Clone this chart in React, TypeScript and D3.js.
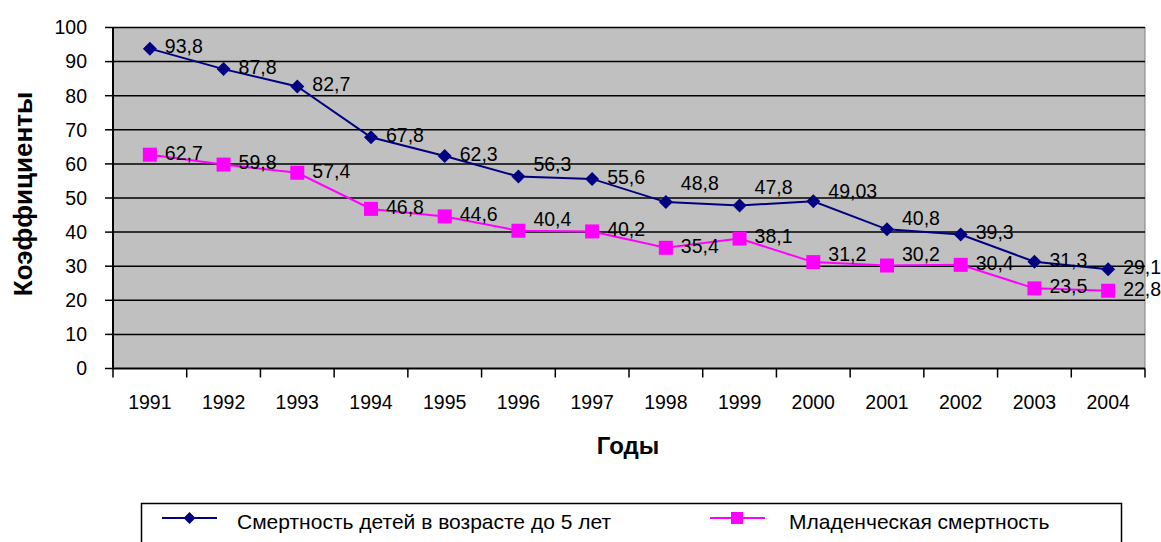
import React from "react";
import * as d3 from "d3";

const years = ["1991","1992","1993","1994","1995","1996","1997","1998","1999","2000","2001","2002","2003","2004"];
const under5 = [93.8, 87.8, 82.7, 67.8, 62.3, 56.3, 55.6, 48.8, 47.8, 49.03, 40.8, 39.3, 31.3, 29.1];
const infant = [62.7, 59.8, 57.4, 46.8, 44.6, 40.4, 40.2, 35.4, 38.1, 31.2, 30.2, 30.4, 23.5, 22.8];
const under5Labels = ["93,8","87,8","82,7","67,8","62,3","56,3","55,6","48,8","47,8","49,03","40,8","39,3","31,3","29,1"];
const infantLabels = ["62,7","59,8","57,4","46,8","44,6","40,4","40,2","35,4","38,1","31,2","30,2","30,4","23,5","22,8"];
// label vertical nudges (layout)
const under5Dy = [0,0,0,0,0,-10,0,-17,-16,-8,-9,0,0,0];
const infantDy = [0,0,0,0,0,-10,0,0,0,-6,-9,0,0,0];
const yTicks = [0,10,20,30,40,50,60,70,80,90,100];
const seriesNames = ["Смертность детей в возрасте до 5 лет", "Младенческая смертность"];

const W = 1161, H = 542;
const L = 113, R = 1145, T = 27.5, B = 368.5;
const font = "Arial, 'Liberation Sans', sans-serif";

export default function App() {
  const x = d3.scaleBand().domain(years).range([L, R]);
  const y = d3.scaleLinear().domain([0, 100]).range([B, T]);
  const cx = (i: number) => (x(years[i]) as number) + x.bandwidth() / 2;
  const line = d3.line<number>().x((_, i) => cx(i)).y((d) => y(d));
  const boundaries = d3.range(years.length + 1).map((i) => L + i * x.bandwidth());

  const diamond = (px: number, py: number, s: number, key: string) => (
    <path key={key} d={`M${px},${py - s}L${px + s},${py}L${px},${py + s}L${px - s},${py}Z`} fill="#000080" />
  );
  const square = (px: number, py: number, s: number, key: string) => (
    <rect key={key} x={px - s} y={py - s} width={2 * s} height={2 * s} fill="#FF00FF" />
  );

  return (
    <svg width={W} height={H} style={{ position: "absolute", left: 0, top: 0, background: "#fff" }} fontFamily={font}>
      <rect x={L} y={T} width={R - L} height={B - T} fill="#C0C0C0" stroke="#808080" strokeWidth={1} />
      {yTicks.map((t) => (
        <g key={t}>
          {t > 0 && <line x1={L} x2={R} y1={y(t)} y2={y(t)} stroke="#000" strokeWidth={1.5} />}
          <line x1={L - 8} x2={L} y1={y(t)} y2={y(t)} stroke="#000" strokeWidth={1.5} />
          <text x={87} y={y(t)} dy="0.35em" textAnchor="end" fontSize={19.5}>{t}</text>
        </g>
      ))}
      <line x1={L} x2={L} y1={T} y2={B} stroke="#000" strokeWidth={2} />
      <line x1={L} x2={R} y1={B} y2={B} stroke="#000" strokeWidth={2} />
      {boundaries.map((bx, i) => (
        <line key={i} x1={bx} x2={bx} y1={B} y2={B + 9} stroke="#000" strokeWidth={1.5} />
      ))}
      {years.map((yr, i) => (
        <text key={yr} x={cx(i)} y={402.5} dy="0.35em" textAnchor="middle" fontSize={19.5}>{yr}</text>
      ))}

      <path d={line(infant) || ""} fill="none" stroke="#FF00FF" strokeWidth={2} />
      <path d={line(under5) || ""} fill="none" stroke="#000080" strokeWidth={2} />
      {infant.map((v, i) => square(cx(i), y(v), 7, "s" + i))}
      {under5.map((v, i) => diamond(cx(i), y(v), 7, "d" + i))}
      {under5.map((v, i) => (
        <text key={"lu" + i} x={cx(i) + 15} y={y(v) - 2 + under5Dy[i]} dy="0.35em" fontSize={19.5}>{under5Labels[i]}</text>
      ))}
      {infant.map((v, i) => (
        <text key={"li" + i} x={cx(i) + 15} y={y(v) - 2 + infantDy[i]} dy="0.35em" fontSize={19.5}>{infantLabels[i]}</text>
      ))}

      <text transform={`translate(23,194) rotate(-90)`} textAnchor="middle" dy="0.35em" fontSize={26} fontWeight="bold">Коэффициенты</text>
      <text x={628} y={446} dy="0.35em" textAnchor="middle" fontSize={24} fontWeight="bold">Годы</text>

      <rect x={141.5} y={503.5} width={980} height={60} fill="#fff" stroke="#000" strokeWidth={1.5} />
      <line x1={162} x2={217} y1={518} y2={518} stroke="#000080" strokeWidth={2} />
      {diamond(189.5, 518, 6, "ld")}
      <text x={237} y={522} dy="0.35em" fontSize={21}>{seriesNames[0]}</text>
      <line x1={710} x2={765} y1={518} y2={518} stroke="#FF00FF" strokeWidth={2} />
      {square(737, 518, 6, "ls")}
      <text x={789} y={522} dy="0.35em" fontSize={21}>{seriesNames[1]}</text>
    </svg>
  );
}
